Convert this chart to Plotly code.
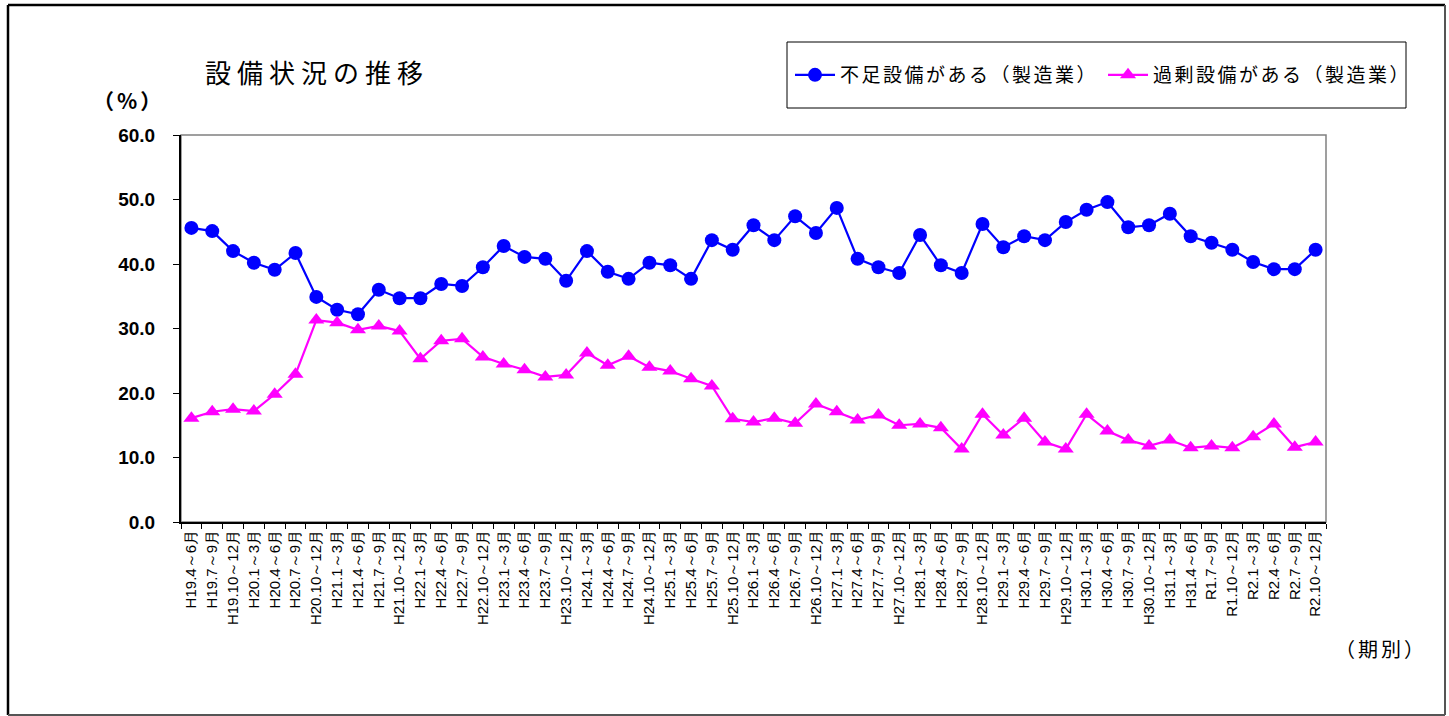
import plotly.graph_objects as go

# Quarterly periods (Heisei / Reiwa)
periods = [
    "H19.4～6月", "H19.7～9月", "H19.10～12月",
    "H20.1～3月", "H20.4～6月", "H20.7～9月", "H20.10～12月",
    "H21.1～3月", "H21.4～6月", "H21.7～9月", "H21.10～12月",
    "H22.1～3月", "H22.4～6月", "H22.7～9月", "H22.10～12月",
    "H23.1～3月", "H23.4～6月", "H23.7～9月", "H23.10～12月",
    "H24.1～3月", "H24.4～6月", "H24.7～9月", "H24.10～12月",
    "H25.1～3月", "H25.4～6月", "H25.7～9月", "H25.10～12月",
    "H26.1～3月", "H26.4～6月", "H26.7～9月", "H26.10～12月",
    "H27.1～3月", "H27.4～6月", "H27.7～9月", "H27.10～12月",
    "H28.1～3月", "H28.4～6月", "H28.7～9月", "H28.10～12月",
    "H29.1～3月", "H29.4～6月", "H29.7～9月", "H29.10～12月",
    "H30.1～3月", "H30.4～6月", "H30.7～9月", "H30.10～12月",
    "H31.1～3月", "H31.4～6月", "R1.7～9月", "R1.10～12月",
    "R2.1～3月", "R2.4～6月", "R2.7～9月", "R2.10～12月",
]

# 不足設備がある（製造業）
shortage = [
    45.6, 45.1, 42.0, 40.2, 39.1, 41.7, 34.9, 32.9, 32.2, 36.0,
    34.7, 34.7, 36.9, 36.6, 39.5, 42.8, 41.1, 40.8, 37.4, 42.0,
    38.8, 37.7, 40.2, 39.8, 37.7, 43.7, 42.2, 46.0, 43.7, 47.4,
    44.8, 48.7, 40.8, 39.5, 38.6, 44.5, 39.8, 38.6, 46.2, 42.6,
    44.3, 43.7, 46.5, 48.4, 49.6, 45.7, 46.0, 47.8, 44.3, 43.3,
    42.2, 40.3, 39.2, 39.2, 42.2,
]

# 過剰設備がある（製造業）
excess = [
    16.1, 17.1, 17.5, 17.2, 19.8, 22.9, 31.3, 30.9, 29.8, 30.4,
    29.6, 25.3, 28.1, 28.4, 25.6, 24.5, 23.6, 22.5, 22.8, 26.2,
    24.3, 25.7, 24.0, 23.4, 22.2, 21.1, 16.0, 15.5, 16.1, 15.3,
    18.3, 17.1, 15.8, 16.6, 15.0, 15.2, 14.6, 11.3, 16.7, 13.5,
    16.1, 12.4, 11.3, 16.7, 14.1, 12.7, 11.8, 12.7, 11.5, 11.8,
    11.5, 13.2, 15.2, 11.6, 12.4,
]

series_names = ["不足設備がある（製造業）", "過剰設備がある（製造業）"]

y_ticks = [0, 10, 20, 30, 40, 50, 60]

W, H = 1449, 716
ML, MR, MT, MB = 181, 123, 135, 194
PW, PH = W - ML - MR, H - MT - MB

JP = "Noto Sans CJK JP"
AX = "Liberation Sans"


def px_x(p):
    return (p - ML) / PW


def px_y(p):
    return (H - MB - p) / PH


def spaced(text, gap):
    return f'<span style="letter-spacing:{gap}px">{text}</span>'


fig = go.Figure()
fig.add_trace(go.Scatter(
    x=periods, y=shortage, mode="lines+markers",
    name=spaced(series_names[0], 2.5),
    line=dict(color="#0000FF", width=2.2),
    marker=dict(symbol="circle", size=14, color="#0000FF"),
))
fig.add_trace(go.Scatter(
    x=periods, y=excess, mode="lines+markers",
    name=spaced(series_names[1], 2.5),
    line=dict(color="#FF00FF", width=2.2),
    marker=dict(symbol="triangle-up", size=14, color="#FF00FF"),
))


def line(x0, y0, x1, y1, color, width):
    return dict(type="line", xref="paper", yref="paper",
                x0=px_x(x0), x1=px_x(x1), y0=px_y(y0), y1=px_y(y1),
                line=dict(color=color, width=width))


shapes = [
    # plot area frame (grey top/right)
    dict(type="rect", xref="paper", yref="paper", x0=0, y0=0, x1=1, y1=1,
         line=dict(color="#808080", width=1.5), layer="below"),
    # outer chart border
    line(8, 5, 1445, 5, "#000000", 2.5),
    line(8, 5, 8, 715, "#000000", 2.5),
    line(1445, 5, 1445, 715, "#555555", 2),
    line(8, 715, 1445, 715, "#555555", 2),
    # legend box
    dict(type="rect", xref="paper", yref="paper",
         x0=px_x(787), x1=px_x(1406), y0=px_y(108), y1=px_y(42),
         line=dict(color="#000000", width=1), fillcolor="white", layer="below"),
]

annotations = [
    dict(text=spaced("設備状況の推移", 6),
         xref="paper", yref="paper",
         x=px_x(203), y=px_y(72), xanchor="left", yanchor="middle",
         showarrow=False, font=dict(family=JP, size=26, color="#000000")),
    dict(text=spaced("<b>（%）</b>", 3), xref="paper", yref="paper",
         x=px_x(166), y=px_y(100), xanchor="right", yanchor="middle",
         showarrow=False, font=dict(family=JP, size=21, color="#000000")),
    dict(text=spaced("（期別）", 3), xref="paper", yref="paper",
         x=px_x(1429), y=px_y(648), xanchor="right", yanchor="middle",
         showarrow=False, font=dict(family=JP, size=20, color="#000000")),
]

fig.update_layout(
    width=W, height=H,
    margin=dict(l=ML, r=MR, t=MT, b=MB, autoexpand=False),
    paper_bgcolor="white", plot_bgcolor="white",
    showlegend=True,
    legend=dict(
        orientation="h", x=px_x(790), y=px_y(75), xanchor="left", yanchor="middle",
        borderwidth=0, bgcolor="rgba(0,0,0,0)",
        font=dict(family=JP, size=19, color="#000000"),
        itemwidth=40, tracegroupgap=0,
    ),
    shapes=shapes,
    annotations=annotations,
    xaxis=dict(
        type="category", tickangle=-90, tickson="boundaries",
        ticks="outside", ticklen=5, tickcolor="#000000",
        showline=True, linecolor="#000000", linewidth=2,
        showgrid=False, zeroline=False,
        tickfont=dict(family=AX, size=15, color="#000000"),
        range=[-0.5, len(periods) - 0.5],
    ),
    yaxis=dict(
        range=[0, 60], tickvals=y_ticks,
        ticktext=[f"<b>{v:.1f}</b>" for v in y_ticks],
        ticks="outside", ticklen=6, tickcolor="#000000",
        showline=True, linecolor="#000000", linewidth=2,
        showgrid=False, zeroline=False,
        tickfont=dict(family=AX, size=19, color="#000000"),
        ticklabelstandoff=14,
    ),
)

fig.write_html("out.html")
